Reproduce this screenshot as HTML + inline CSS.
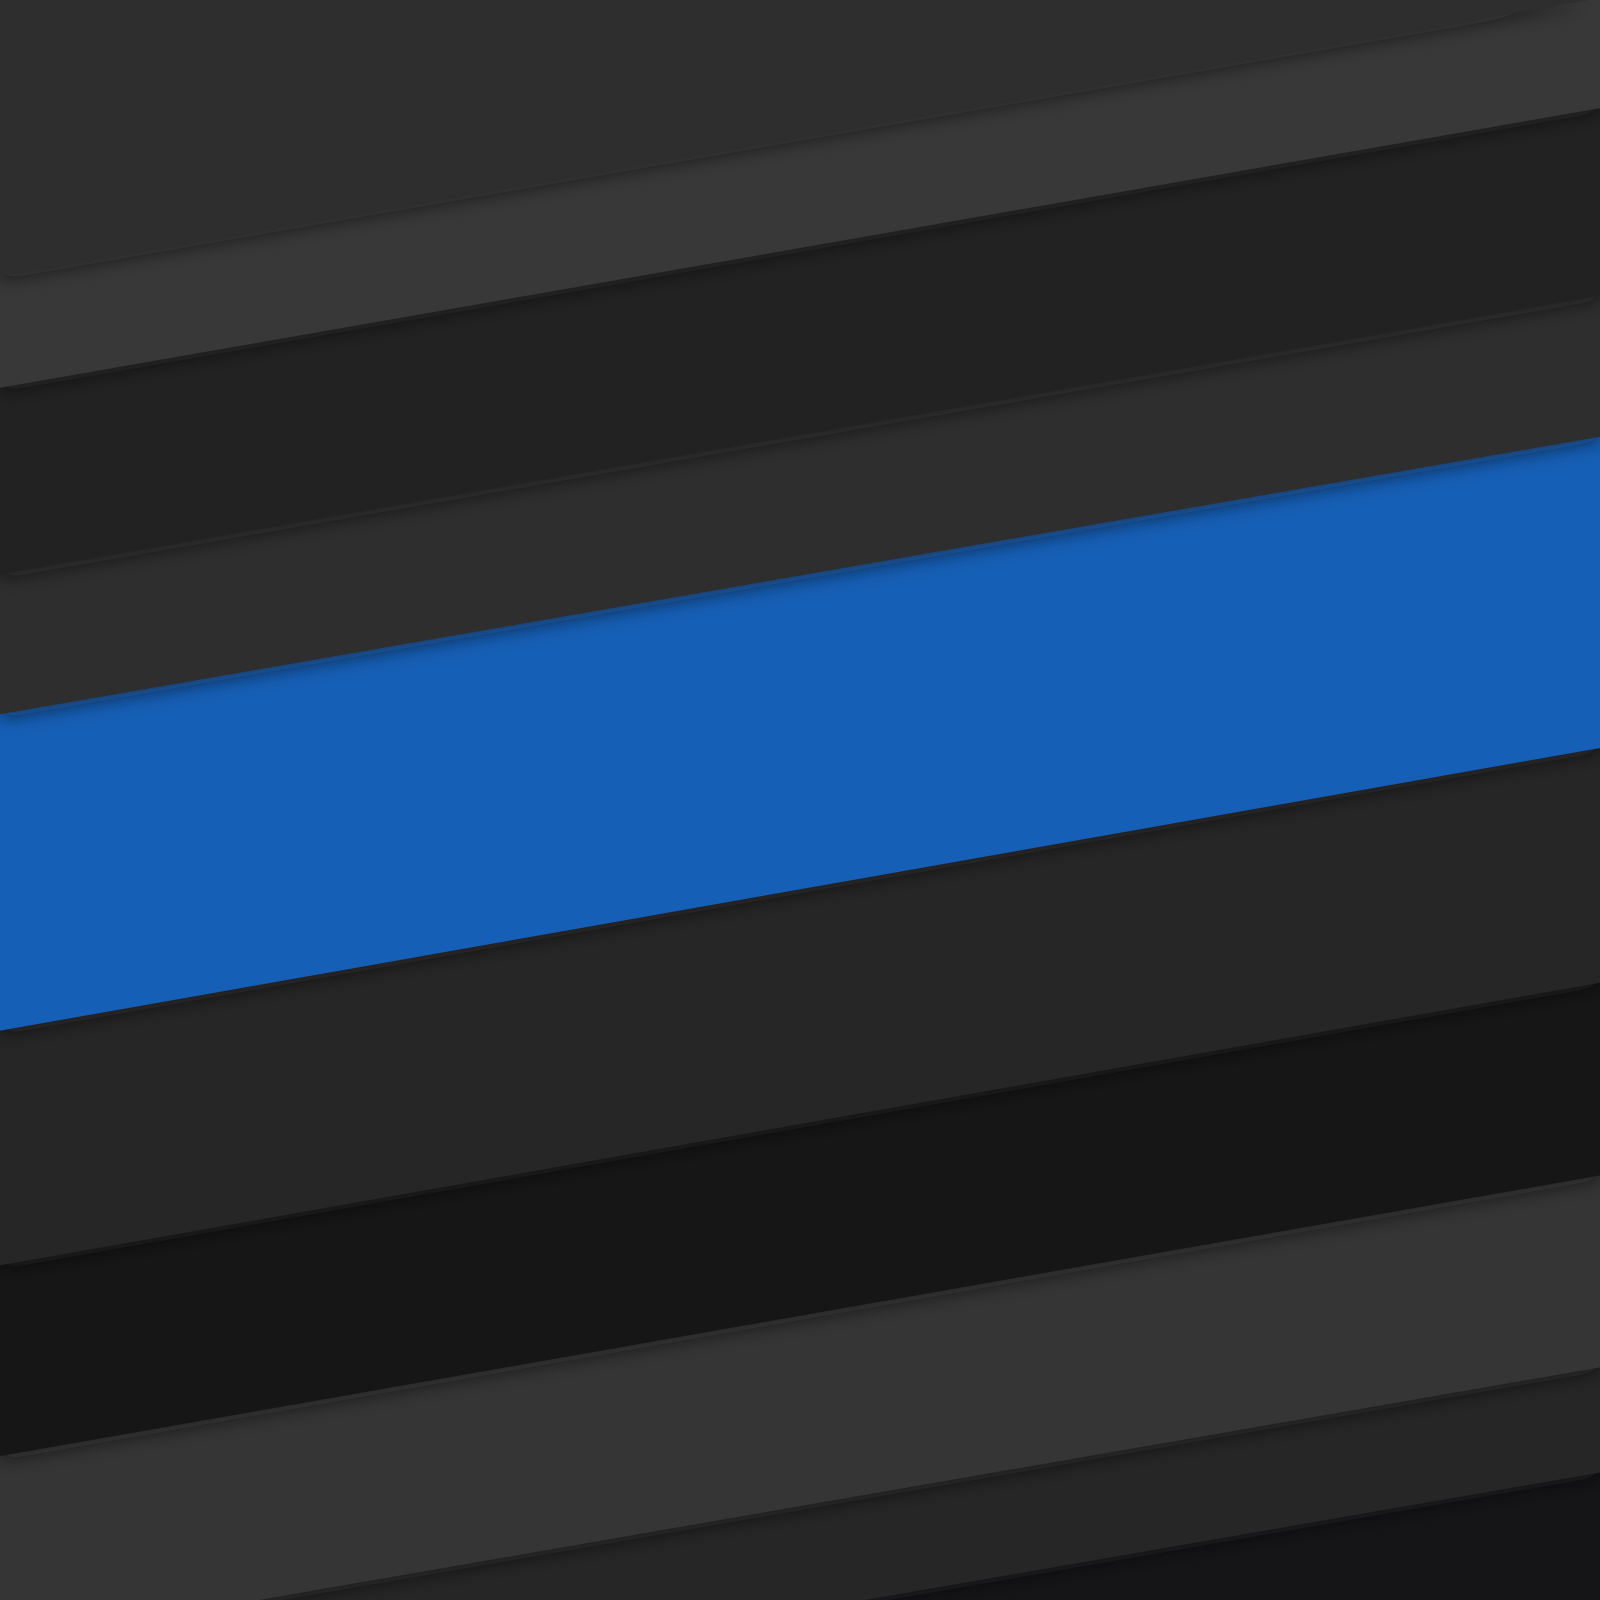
<!DOCTYPE html>
<html><head><meta charset="utf-8"><style>
html,body{margin:0;padding:0;background:#151515;width:1600px;height:1600px;overflow:hidden;}
svg{display:block;}
</style></head><body>
<svg width="1600" height="1600" viewBox="0 0 1568 1568" xmlns="http://www.w3.org/2000/svg">
<defs>
<filter id="sh" x="-5%" y="-5%" width="110%" height="115%">
<feDropShadow dx="0" dy="4" stdDeviation="9" flood-color="#0a0a16" flood-opacity="0.55"/>
</filter>
</defs>
<rect x="0" y="0" width="1568" height="1568" fill="#151518"/>
<g id="bands"></g>
</svg>
<script>
const edgesLeft=[270,380,563,700,1010,1240,1427,1612,1715];
const edgesRight=[-2,106,290,428,733,963,1152,1340,1443];
const colors=['#2d2d2d','#383838','#222222','#2d2d2d','#175eb6','#282828','#171717','#353535','#262626'];
const names=['band-top','band-light-1','band-dark-1','band-mid-1','band-blue','band-mid-2','band-dark-2','band-light-2','band-dark-3'];
const W=1568;
function clipY(pts,lim,keepBelow){
  const out=[];
  const inside=p=>keepBelow?p[1]>=lim:p[1]<=lim;
  for(let i=0;i<pts.length;i++){
    const a=pts[i],b=pts[(i+1)%pts.length];
    const ia=inside(a),ib=inside(b);
    if(ia)out.push(a);
    if(ia!==ib){const t=(lim-a[1])/(b[1]-a[1]);out.push([a[0]+t*(b[0]-a[0]),lim]);}
  }
  return out;
}
const g=document.getElementById('bands');
for(let i=edgesLeft.length-1;i>=0;i--){
  let pts=[[0,0],[W,0],[W,edgesRight[i]],[0,edgesLeft[i]]];
  pts=clipY(pts,0,true);
  pts=clipY(pts,W,false);
  const p=document.createElementNS('http://www.w3.org/2000/svg','polygon');
  p.setAttribute('points',pts.map(q=>q[0].toFixed(1)+','+q[1].toFixed(1)).join(' '));
  p.setAttribute('fill',colors[i]);
  p.setAttribute('filter','url(#sh)');
  
  
  g.appendChild(p);
}
</script>
</body></html>
